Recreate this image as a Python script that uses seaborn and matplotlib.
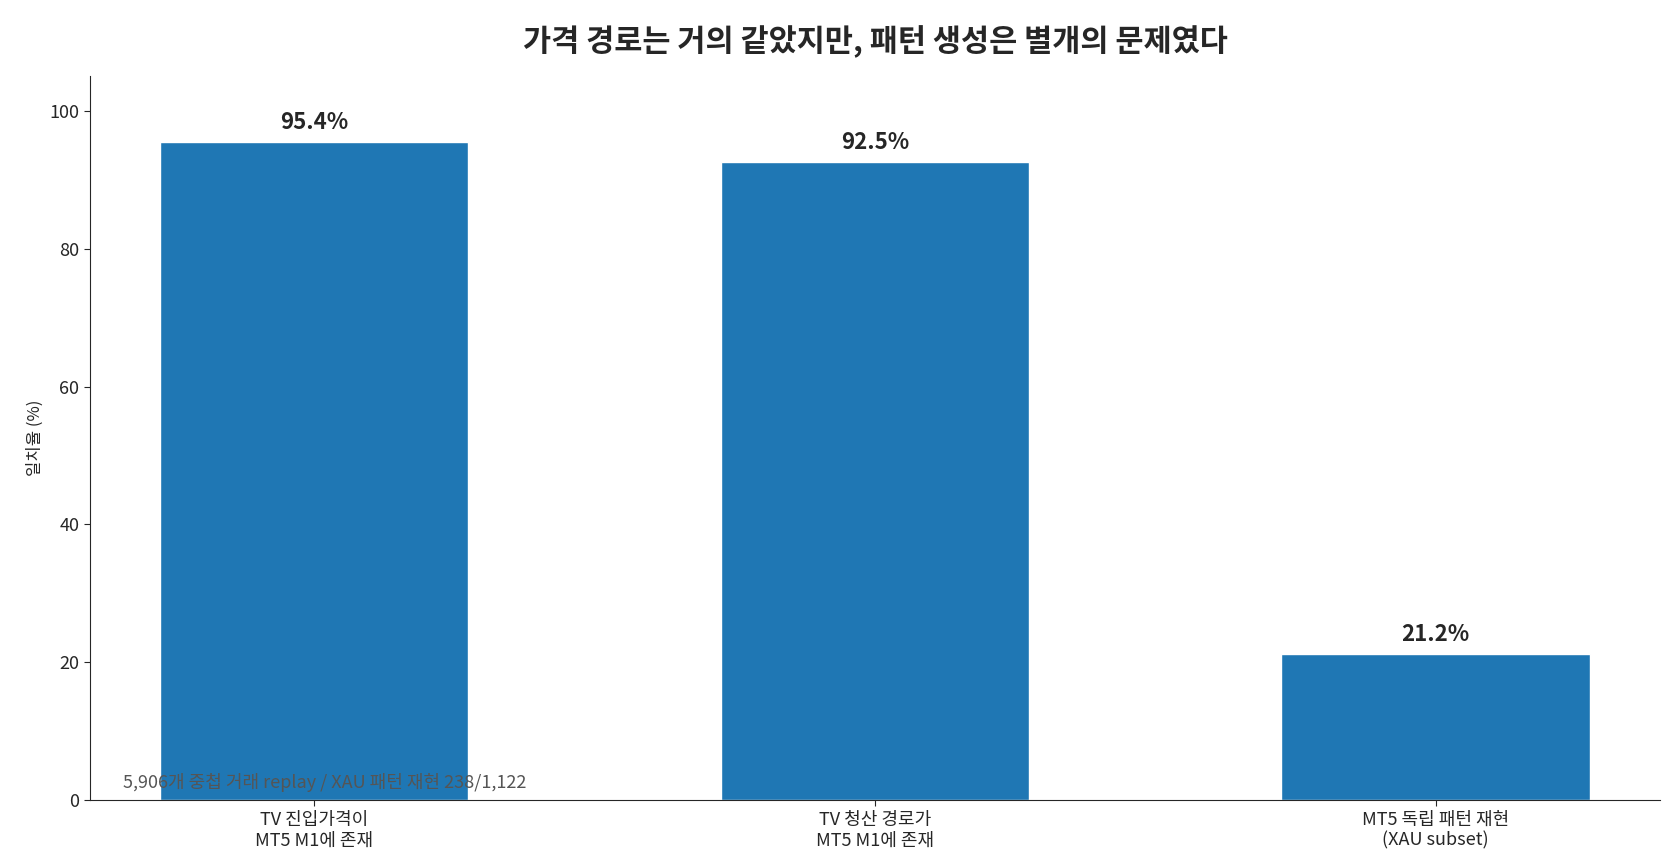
import numpy as np
import matplotlib
matplotlib.use("Agg")
import matplotlib.pyplot as plt
import pandas as pd
import seaborn as sns

categories = ["TV 진입가격이\nMT5 M1에 존재", "TV 청산 경로가\nMT5 M1에 존재", "MT5 독립 패턴 재현\n(XAU subset)"]
values = [95.4, 92.5, 21.2]

sns.set_style("white")
plt.rcParams['font.family'] = ['Noto Sans CJK KR', 'DejaVu Sans']

df = pd.DataFrame({"cat": categories, "val": values})

fig, ax = plt.subplots(figsize=(16.65, 8.67), dpi=100)
fig.subplots_adjust(left=0.054, right=0.997, top=0.912, bottom=0.077)
sns.barplot(data=df, x="cat", y="val", color="#1f77b4", saturation=1, width=0.55, ax=ax)

for i, v in enumerate(values):
    ax.text(i, v + 1.2, f"{v:.1f}%", ha="center", va="bottom", fontsize=16, fontweight="bold")

ax.set_ylim(0, 105)
ax.set_xlim(-0.4, 2.4)
ax.set_xlabel("")
ax.set_ylabel("일치율 (%)", fontsize=12)
ax.tick_params(axis="both", labelsize=13, length=4, bottom=True, left=True)
ax.set_title("가격 경로는 거의 같았지만, 패턴 생성은 별개의 문제였다", fontsize=22, fontweight="bold", pad=18)
ax.text(0.021, 0.012, "5,906개 중첩 거래 replay / XAU 패턴 재현 238/1,122",
        transform=ax.transAxes, fontsize=13, color="#555555", ha="left", va="bottom")
sns.despine(ax=ax)

plt.savefig("out.png")
